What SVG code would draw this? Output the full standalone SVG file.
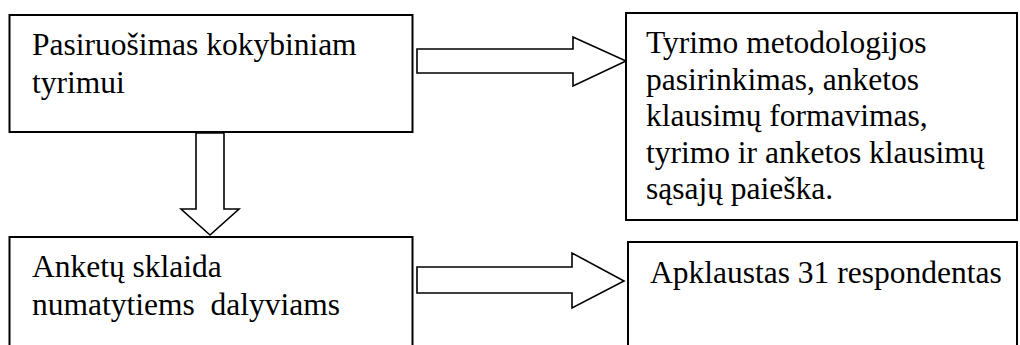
<svg xmlns="http://www.w3.org/2000/svg" width="1020" height="345" viewBox="0 0 1020 345">
<style>
.box{fill:#fff;stroke:#000;stroke-width:2}
.arr{fill:#fff;stroke:#000;stroke-width:1.6;stroke-linejoin:miter}
.t{font-family:'Liberation Serif',serif;font-size:31.5px;fill:#000}
</style>
<rect width="1020" height="345" fill="#fff"/>
<g id="connectors">
<polygon class="arr" points="417,49 573,49 573,37 626,61 573,86 573,73 417,73"/>
<polygon class="arr" points="196,133 224,133 224,209 239,209 210,235 181,209 196,209"/>
<polygon class="arr" points="417,267 572,267 572,253 624,281 572,308 572,293 417,293"/>
</g>
<g id="node1">
<rect class="box" x="9.5" y="15" width="403" height="117"/>
<text class="t" x="32" y="55">Pasiruošimas kokybiniam</text>
<text class="t" x="32" y="92.5">tyrimui</text>
</g>
<g id="node2">
<rect class="box" x="626" y="13" width="391" height="207"/>
<text class="t" x="646" y="53">Tyrimo metodologijos</text>
<text class="t" x="646" y="89.5">pasirinkimas, anketos</text>
<text class="t" x="646" y="126">klausimų formavimas,</text>
<text class="t" x="646" y="162.5">tyrimo ir anketos klausimų</text>
<text class="t" x="646" y="199">sąsajų paieška.</text>
</g>
<g id="node3">
<rect class="box" x="9.5" y="237" width="403" height="120"/>
<text class="t" x="32" y="277">Anketų sklaida</text>
<text class="t" x="32" y="315" xml:space="preserve">numatytiems  dalyviams</text>
</g>
<g id="node4">
<rect class="box" x="628" y="242" width="389" height="120"/>
<text class="t" x="650" y="283">Apklaustas 31 respondentas</text>
</g>
</svg>
